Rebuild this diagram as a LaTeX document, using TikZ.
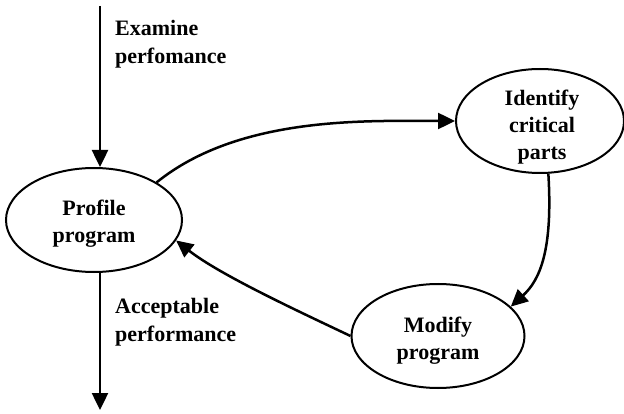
\documentclass[tikz,border=0pt]{standalone}
\usepackage{fontspec}
\setmainfont{Liberation Serif}
\usetikzlibrary{arrows.meta,shapes.geometric}
\begin{document}
\begin{tikzpicture}[x=1pt,y=-1pt,
  state/.style={draw,line width=2pt,ellipse,minimum width=#1,minimum height=104pt,inner sep=0pt},
  stext/.style={font=\fontsize{22}{27}\selectfont\bfseries,align=center,inner sep=0pt},
  lbl/.style={anchor=north west,font=\fontsize{22}{28}\selectfont\bfseries,align=left,inner sep=0pt},
  conn/.style={line width=2.5pt,-{Triangle[length=17pt,width=16pt]}}]
\useasboundingbox (0,0) rectangle (624,414);
\node[state=176pt] (p) at (94,220) {};
\node[state=168pt] (i) at (540,121) {};
\node[state=173pt] (m) at (438,336) {};
\node[stext] (pt) at ([yshift=-4pt]p.center) {Profile\\program};
\node[stext] (it) at ([yshift=-6pt,xshift=2pt]i.center) {Identify\\critical\\parts};
\node[stext] (mt) at ([yshift=-5pt]m.center) {Modify\\program};
\coordinate (top) at (100,6);
\coordinate (bot) at (100,410);
\node[lbl] (l1) at (115,20) {Examine\\perfomance};
\node[lbl] (l2) at (115,298) {Acceptable\\performance};
\draw[conn] (top) -- (top|-p.north);
\draw[conn] (p.south-|bot) -- (bot);
\draw[conn] (p.31) .. controls (240,115) and (370,121) .. (i.west);
\draw[conn] (i.-81) .. controls (553,250) and (540,280) .. (m.22);
\draw[conn] (m.west) .. controls (300,312) and (220,275) .. (p.-14);
\end{tikzpicture}
\end{document}
